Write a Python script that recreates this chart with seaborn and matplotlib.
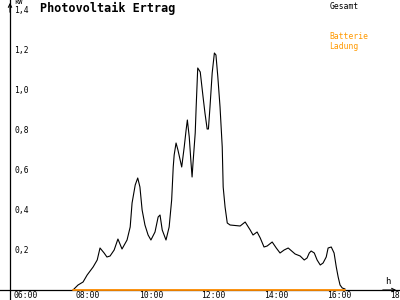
import matplotlib
matplotlib.use("Agg")
import matplotlib.pyplot as plt
import seaborn as sns
import pandas as pd

# ---- data (hours of day, kW) ----
hours = [7.91, 8.07, 8.23, 8.36, 8.55, 8.68, 8.77, 8.90, 8.99, 9.09, 9.22, 9.34, 9.47,
         9.63, 9.73, 9.79, 9.89, 9.97, 10.04, 10.11, 10.20, 10.30, 10.39, 10.52, 10.62,
         10.68, 10.75, 10.87, 10.97, 11.05, 11.10, 11.13, 11.19, 11.25, 11.37, 11.45,
         11.51, 11.55, 11.61, 11.66, 11.70, 11.73, 11.80, 11.83, 11.88, 11.96, 12.05,
         12.11, 12.18, 12.22, 12.27, 12.34, 12.41, 12.46, 12.52, 12.59, 12.66, 12.69,
         12.75, 12.82, 12.91, 13.23, 13.39, 13.55, 13.64, 13.77, 13.87, 13.99, 14.09,
         14.25, 14.38, 14.50, 14.63, 14.76, 14.98, 15.14, 15.27, 15.36, 15.43, 15.49,
         15.59, 15.68, 15.78, 15.87, 15.97, 16.03, 16.13, 16.22, 16.29, 16.35, 16.41,
         16.48, 16.57]
gesamt = [0.0, 0.025, 0.04, 0.075, 0.115, 0.15, 0.21, 0.185, 0.165, 0.17, 0.20, 0.255, 0.205,
          0.25, 0.315, 0.435, 0.525, 0.56, 0.515, 0.40, 0.325, 0.275, 0.25, 0.29, 0.365,
          0.375, 0.30, 0.25, 0.315, 0.45, 0.615, 0.675, 0.735, 0.70, 0.615, 0.715,
          0.80, 0.85, 0.765, 0.65, 0.565, 0.635, 0.785, 0.915, 1.11, 1.09, 0.965,
          0.885, 0.805, 0.805, 0.915, 1.085, 1.185, 1.175, 1.065, 0.915, 0.715, 0.515,
          0.415, 0.335, 0.325, 0.32, 0.34, 0.30, 0.275, 0.29, 0.26, 0.215, 0.22,
          0.24, 0.21, 0.185, 0.20, 0.21, 0.18, 0.17, 0.15, 0.16, 0.185, 0.195,
          0.185, 0.15, 0.125, 0.135, 0.165, 0.21, 0.215, 0.185, 0.115, 0.065, 0.025,
          0.01, 0.005]
batterie = [0.0] * len(hours)

series_names = ["Gesamt", "Batterie Ladung"]
legend_labels = ["Gesamt", "Batterie\nLadung"]
x_ticks = [6, 8, 10, 12, 14, 16, 18]
x_tick_labels = ["06:00", "08:00", "10:00", "12:00", "14:00", "16:00", "18:00"]
y_ticks = [0.2, 0.4, 0.6, 0.8, 1.0, 1.2, 1.4]
y_tick_labels = ["0,2", "0,4", "0,6", "0,8", "1,0", "1,2", "1,4"]
title = "Photovoltaik Ertrag"
y_unit = "kW"
x_unit = "h"

ORANGE = "#ff8c00"

df = pd.concat([
    pd.DataFrame({"hour": hours, "kW": gesamt, "serie": series_names[0]}),
    pd.DataFrame({"hour": hours, "kW": batterie, "serie": series_names[1]}),
])

sns.set_theme(style="white")
plt.rcParams["font.family"] = ["DejaVu Sans Mono", "DejaVu Sans"]

fig = plt.figure(figsize=(4, 3), dpi=100)
ax = fig.add_axes([0, 0, 1, 1])

sns.lineplot(data=df, x="hour", y="kW", hue="serie",
             palette={series_names[0]: "black", series_names[1]: ORANGE},
             ax=ax, legend=True, zorder=3)
for ln, lw in zip(ax.get_lines(), [0.8, 1.3]):
    ln.set_linewidth(lw)

# axis scaling: 06:00 at x=13px, 18:00 at x=390px; 0 at y=290px, 1.4 at y=10px
pxh = (390 - 13) / 12.0
x0 = 6 - 13 / pxh
ax.set_xlim(x0, x0 + 400 / pxh)
ax.set_ylim(-10 / 200.0, 290 / 200.0)

for s in ["top", "right"]:
    ax.spines[s].set_visible(False)
ax.spines["left"].set_position(("data", 6 - 3 / pxh))
ax.spines["bottom"].set_position(("data", 0))
for s in ["left", "bottom"]:
    ax.spines[s].set_color("black")
    ax.spines[s].set_linewidth(0.9)
    ax.spines[s].set_zorder(2)

ax.set_xticks(x_ticks, x_tick_labels)
ax.set_yticks(y_ticks, y_tick_labels)
ax.tick_params(axis="both", direction="inout", length=5, width=0.8, color="black",
               labelsize=5.8, labelcolor="black")
ax.tick_params(axis="x", pad=-1.5)
ax.tick_params(axis="y", pad=-5.5)
for lab in ax.get_xticklabels():
    lab.set_ha("left")
for lab in ax.get_yticklabels():
    lab.set_ha("left")
ax.set_xlabel("")
ax.set_ylabel("")
ax.grid(False)

# axis arrows
ax.annotate("", xy=(10 / 400, 1.0), xytext=(10 / 400, 0.95), xycoords="axes fraction",
            arrowprops=dict(arrowstyle="->", color="black", lw=0.8, mutation_scale=6))
ax.annotate("", xy=(1.0 - 1 / 400, 10 / 300), xytext=(0.95, 10 / 300), xycoords="axes fraction",
            arrowprops=dict(arrowstyle="->", color="black", lw=0.8, mutation_scale=6))
ax.text(14 / 400, 1 + 1 / 300, y_unit, transform=ax.transAxes, fontsize=5.0,
        va="top", ha="left", color="black")
ax.text(385 / 400, 1 - 277 / 300, x_unit, transform=ax.transAxes, fontsize=6.5,
        va="top", ha="left", color="black")

fig.text(40 / 400, 1 - 2 / 300, title, fontsize=8.5, fontweight="bold",
         va="top", ha="left", color="black")

handles, _ = ax.get_legend_handles_labels()
leg = ax.legend(handles, legend_labels, loc="upper left",
                bbox_to_anchor=(328 / 400, 1 - 0 / 300), bbox_transform=fig.transFigure,
                frameon=False, handlelength=0, handletextpad=0, labelcolor="linecolor",
                prop={"size": 5.8}, labelspacing=2.6, borderpad=0.2, borderaxespad=0)
for t, c in zip(leg.get_texts(), ["black", "#ff9900"]):
    t.set_color(c)

fig.savefig("out.png", dpi=100)
